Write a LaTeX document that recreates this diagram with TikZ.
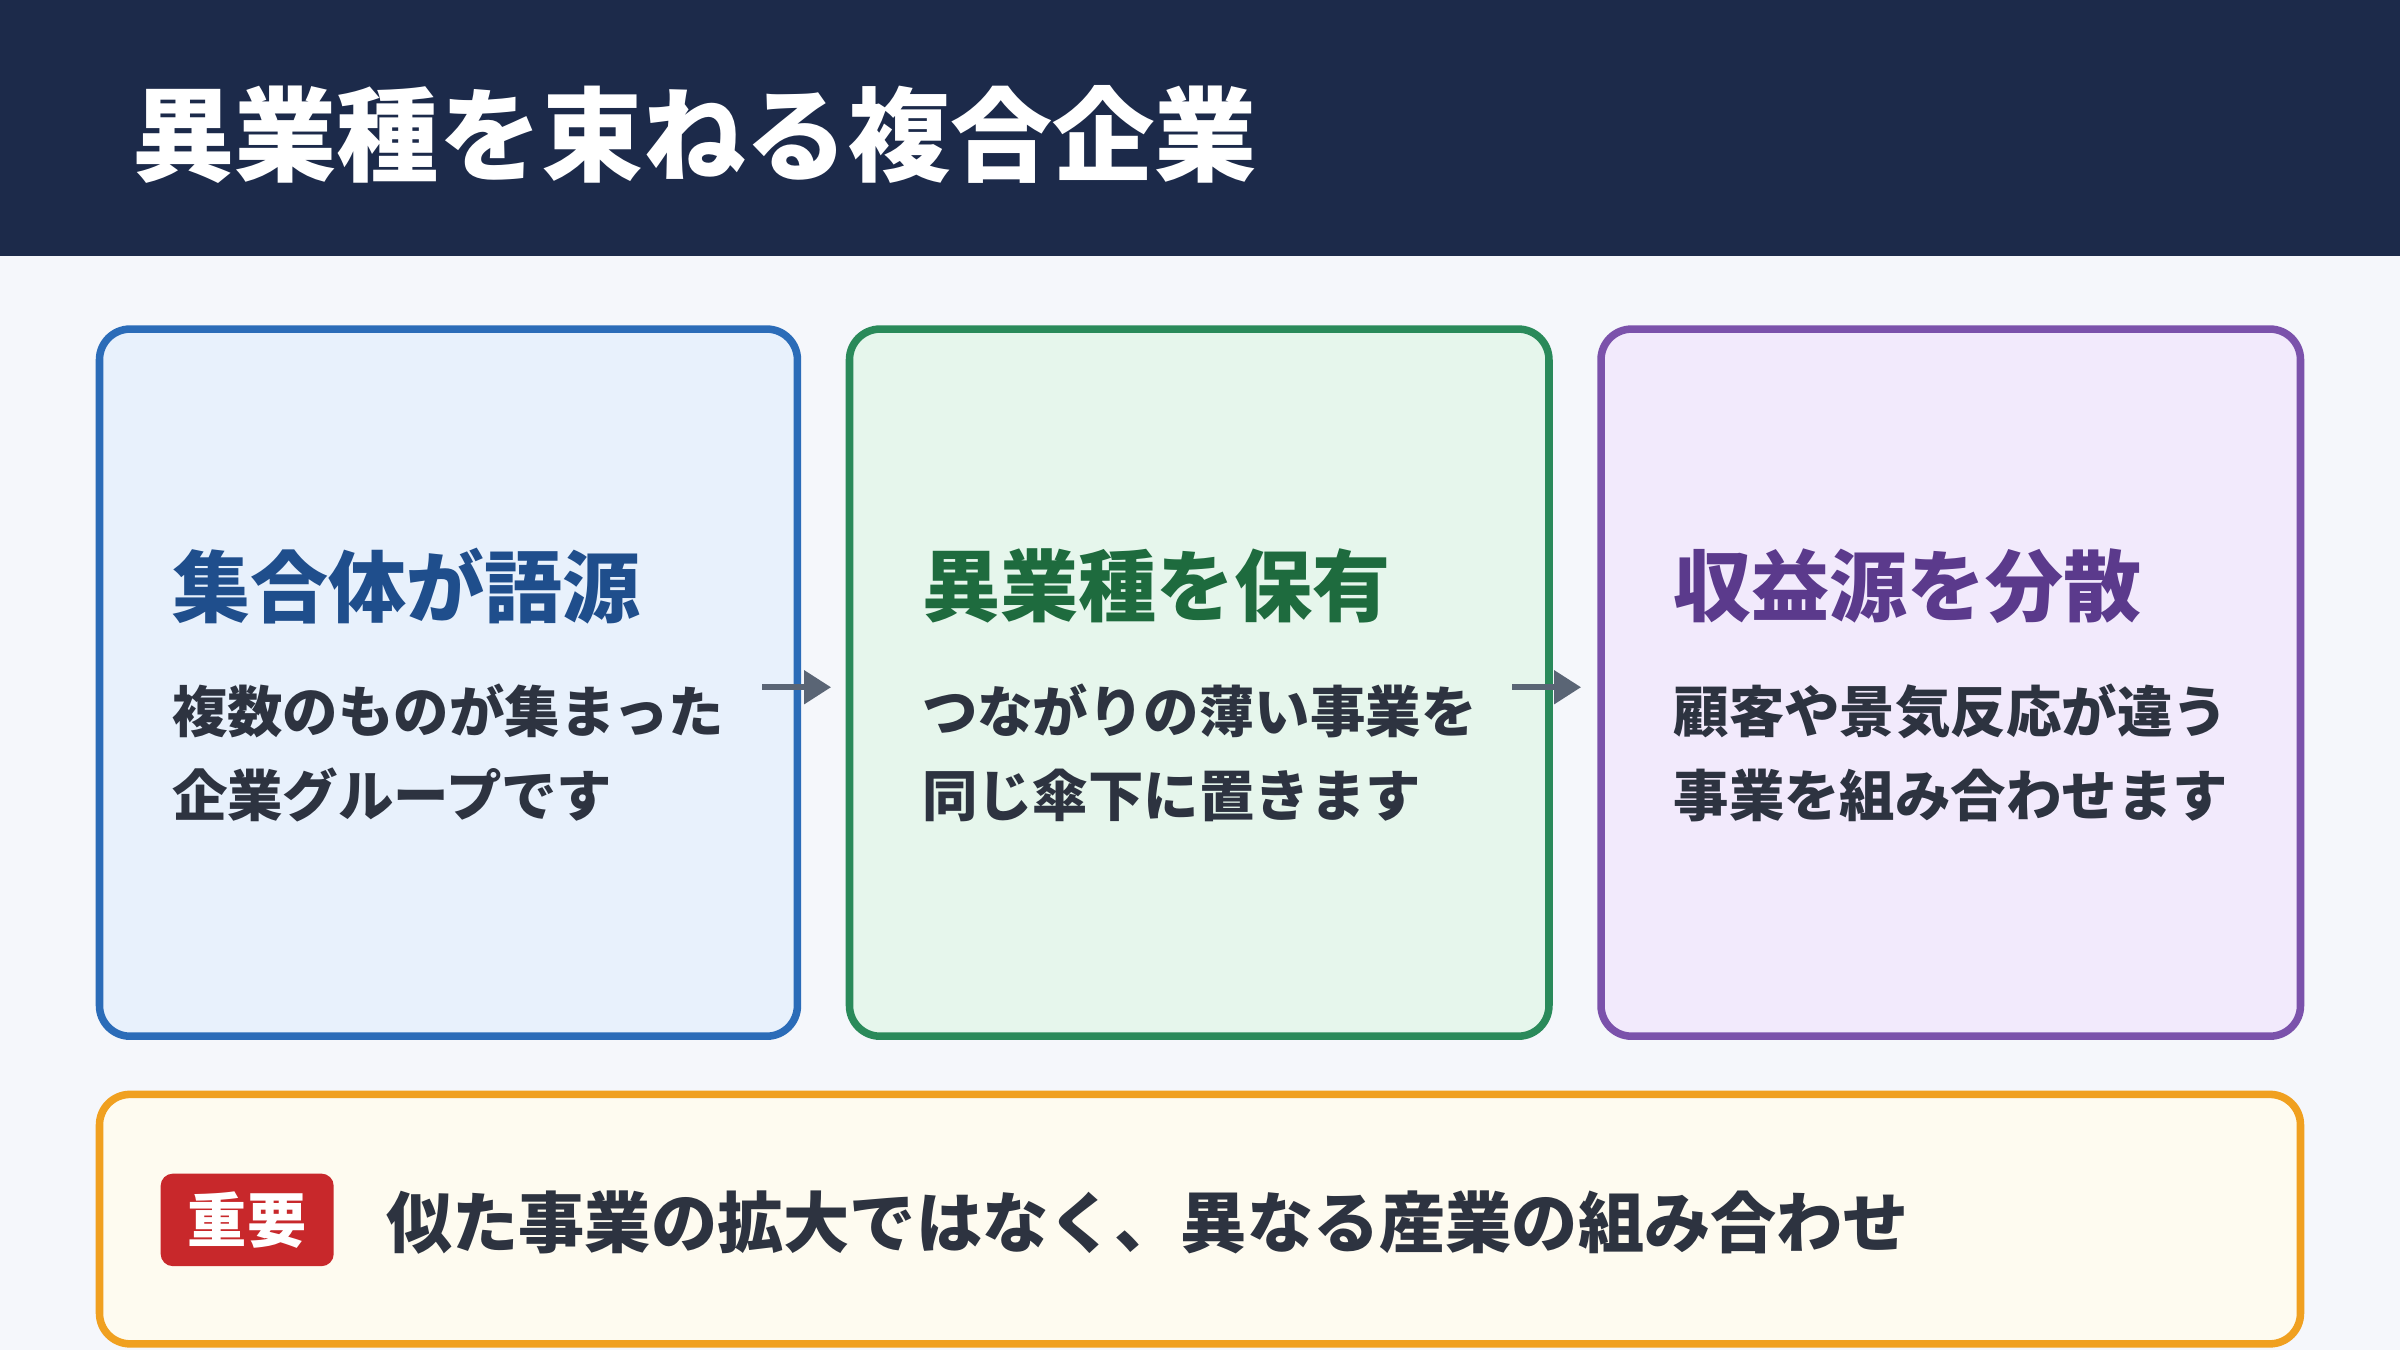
\documentclass[tikz,border=0pt]{standalone}
\usepackage{fontspec}
\setmainfont{Noto Sans CJK JP}
\usetikzlibrary{arrows.meta}
\definecolor{hdr}{HTML}{1C2A4A}
\definecolor{bg}{HTML}{F5F7FB}
\definecolor{bA}{HTML}{2B6CB8}\definecolor{fA}{HTML}{E8F1FC}\definecolor{tA}{HTML}{1F4E8C}
\definecolor{bB}{HTML}{2A8A5A}\definecolor{fB}{HTML}{E6F6EC}\definecolor{tB}{HTML}{1E6B3E}
\definecolor{bC}{HTML}{7B52AB}\definecolor{fC}{HTML}{F2EAFC}\definecolor{tC}{HTML}{5B3A8C}
\definecolor{bD}{HTML}{F0A020}\definecolor{fD}{HTML}{FEFBF0}
\definecolor{body}{HTML}{2D3340}\definecolor{arr}{HTML}{5A6575}\definecolor{red}{HTML}{C8282B}
\begin{document}
\begin{tikzpicture}[x=0.01cm,y=-0.01cm,
 card/.style={line width=5\pgflinewidth*0+1.4pt,rounded corners=0.2cm},
 head/.style={anchor=west,font=\fontsize{14.5pt}{17pt}\selectfont\bfseries},
 txt/.style={anchor=west,text=body,font=\fontsize{10.3pt}{15.6pt}\selectfont\bfseries,align=left},
 ar/.style={arr,line width=1.2pt,-{Triangle[length=5pt,width=6pt]}}]
\useasboundingbox (0,0) rectangle (1568,882);
\fill[bg] (0,0) rectangle (1568,882);
\fill[hdr] (0,0) rectangle (1568,167);
\node[anchor=west,text=white,font=\fontsize{19pt}{22pt}\selectfont\bfseries] (title) at (74,88) {異業種を束ねる複合企業};
\draw[card,draw=bA,fill=fA] (65,215) rectangle (521,677);
\draw[card,draw=bB,fill=fB] (555,215) rectangle (1012,677);
\draw[card,draw=bC,fill=fC] (1046,215) rectangle (1503,677);
\node[head,text=tA] (h1) at (100,383) {集合体が語源};
\node[head,text=tB] (h2) at (590,383) {異業種を保有};
\node[head,text=tC] (h3) at (1081,383) {収益源を分散};
\node[txt] (t1) at (100,492) {複数のものが集まった\\企業グループです};
\node[txt] (t2) at (590,492) {つながりの薄い事業を\\同じ傘下に置きます};
\node[txt] (t3) at (1081,492) {顧客や景気反応が違う\\事業を組み合わせます};
\coordinate (a1) at (498,449); \coordinate (a2) at (543,449);
\coordinate (a3) at (988,449); \coordinate (a4) at (1033,449);
\draw[ar] (a1) -- (a2);
\draw[ar] (a3) -- (a4);
\draw[card,draw=bD,fill=fD] (65,715) rectangle (1503,878);
\node[fill=red,rounded corners=0.08cm,minimum width=1.13cm,minimum height=0.58cm,text=white,font=\fontsize{11pt}{13pt}\selectfont\bfseries] (badge) at (161.5,797) {重要};
\node[anchor=west,text=body,font=\fontsize{12.3pt}{15pt}\selectfont\bfseries] (imp) at (240,799) {似た事業の拡大ではなく、異なる産業の組み合わせ};
\end{tikzpicture}
\end{document}
